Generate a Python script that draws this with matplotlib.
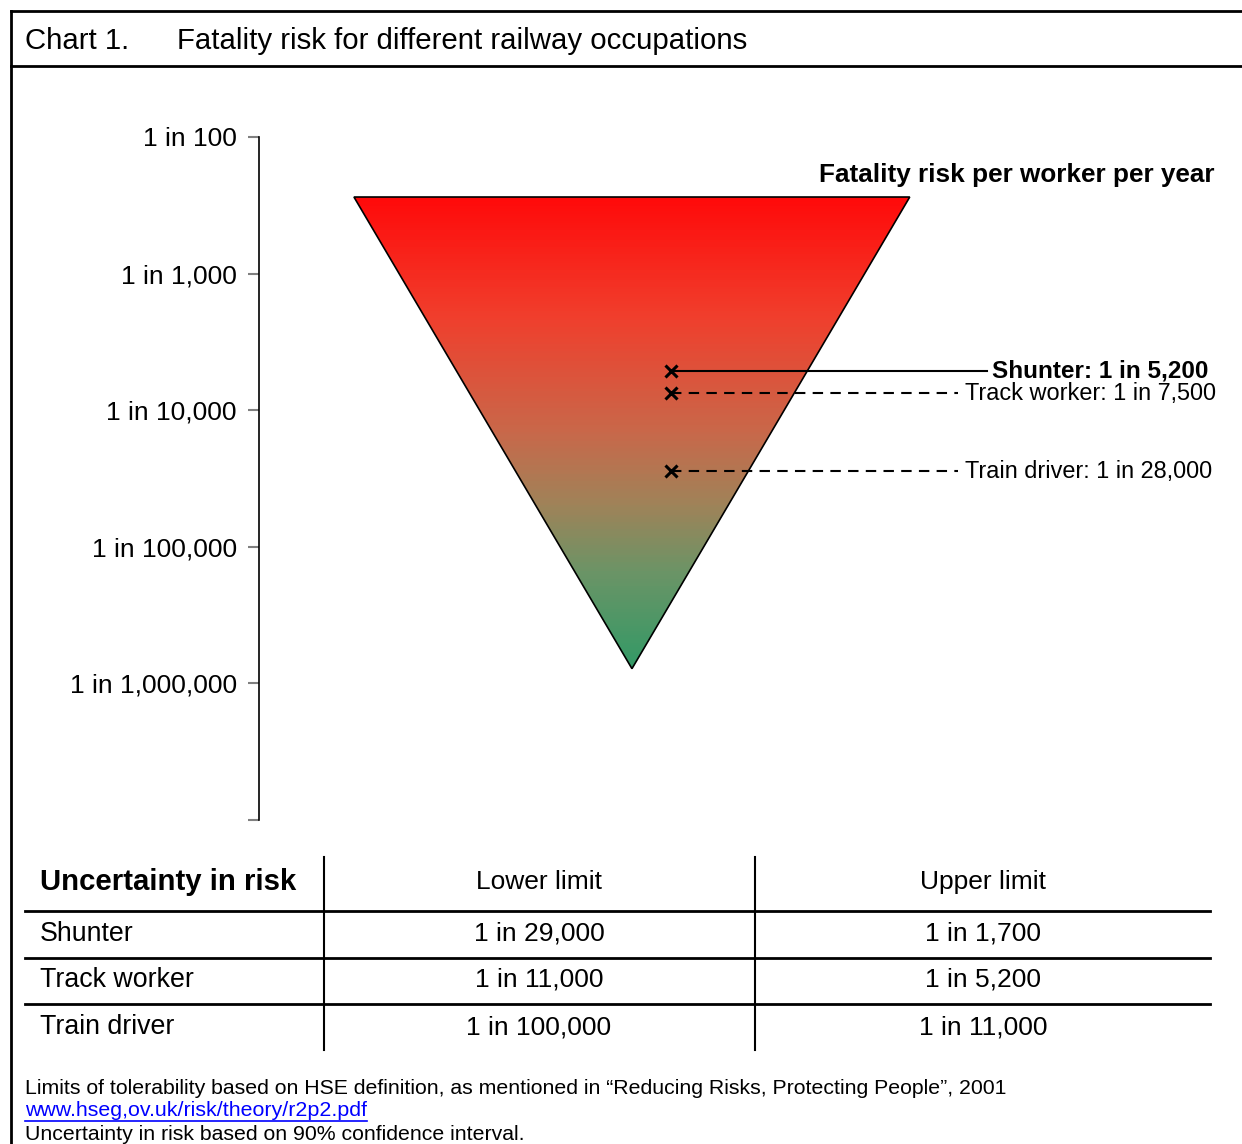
import numpy as np
import matplotlib.pyplot as plt
from matplotlib.patches import Polygon
from matplotlib.colors import LinearSegmentedColormap

plt.rcParams['font.family'] = ['Liberation Sans', 'DejaVu Sans']

# --- data ---
occupations = ['Shunter', 'Track worker', 'Train driver']
risk_one_in = [5200, 7500, 28000]          # fatality risk per worker per year
lower_limit = [29000, 11000, 100000]
upper_limit = [1700, 5200, 11000]
axis_ticks = [100, 1000, 10000, 100000, 1000000, 10000000]
triangle_top = 275          # 1 in N at the wide end of the triangle
triangle_apex = 780000      # 1 in N at the point

def one_in(v):
    return f"1 in {v:,}"

W, H = 1242, 1144
fig = plt.figure(figsize=(W / 100, H / 100), dpi=100)

# overlay in pixel units for frame, table and footer
bg = fig.add_axes([0, 0, 1, 1])
bg.set_xlim(0, W)
bg.set_ylim(H, 0)
bg.axis('off')

# frame and header
bg.plot([11, W], [11, 11], color='black', lw=2)
bg.plot([11, W], [66, 66], color='black', lw=2)
bg.plot([11, 11], [11, H], color='black', lw=2)
bg.text(25, 41, 'Chart 1.', fontsize=21.2, va='center')
bg.text(177, 41, 'Fatality risk for different railway occupations', fontsize=21.2, va='center')

# --- main log-scale axis ---
ax = fig.add_axes([259 / W, 1 - 820 / H, (W - 259) / W, (820 - 137) / H])
ax.set_facecolor('none')
ax.set_yscale('log')
ax.set_ylim(axis_ticks[-1], axis_ticks[0])
ax.set_xlim(0, 1)
ax.set_yticks(axis_ticks)
ax.set_yticklabels([one_in(t) for t in axis_ticks[:-1]] + [''])
ax.minorticks_off()
ax.tick_params(axis='y', direction='out', length=8, color='gray', width=1.5,
               pad=8, labelsize=19)
ax.set_xticks([])
for s in ['top', 'right', 'bottom']:
    ax.spines[s].set_visible(False)
ax.spines['left'].set_linewidth(1.2)

# gradient triangle
tri_x = [0.0966, 0.662, 0.3794]
tri = Polygon([(tri_x[0], triangle_top), (tri_x[1], triangle_top), (tri_x[2], triangle_apex)],
              closed=True, facecolor='none', edgecolor='black', lw=1.2, zorder=3)
ax.add_patch(tri)
cmap = LinearSegmentedColormap.from_list('risk', [
    (0.0, '#ff0a0a'), (0.25, '#f03e2c'), (0.5, '#c8684a'),
    (0.65, '#a08258'), (0.8, '#6a9466'), (1.0, '#339966')])
ye = np.logspace(np.log10(triangle_top), np.log10(triangle_apex), 200)
xe = np.array([tri_x[0], tri_x[1]])
c = np.linspace(0, 1, len(ye) - 1)[:, None]
mesh = ax.pcolormesh(xe, ye, c, cmap=cmap, shading='flat', zorder=2)
mesh.set_clip_path(tri)

ax.text(0.9725, 0.944, 'Fatality risk per worker per year', transform=ax.transAxes,
        ha='right', va='center', fontsize=18.8, fontweight='bold')

# markers with leader lines
marker_x = 0.419
line_end = [0.7406, 0.711, 0.711]
label_x = [0.7457, 0.718, 0.718]
label_size = [17.5, 16.9, 16.9]
for i, (name, r) in enumerate(zip(occupations, risk_one_in)):
    ls = '-' if i == 0 else (0, (5, 3.5))
    ax.plot([marker_x, line_end[i]], [r, r], color='black', lw=1.5, ls=ls, zorder=4)
    ax.plot(marker_x, r, marker='x', color='black', ms=9, mew=2.2, zorder=5)
    ax.text(label_x[i], r, f"{name}: {one_in(r)}", va='center', ha='left',
            fontsize=label_size[i], fontweight='bold' if i == 0 else 'normal', clip_on=False)

# --- table ---
bg.plot([324, 324], [857, 1050], color='black', lw=1.5)
bg.plot([755, 755], [857, 1050], color='black', lw=1.5)
for y in [911, 958, 1004]:
    bg.plot([25, 1210], [y, y], color='black', lw=2)
bg.text(40, 882, 'Uncertainty in risk', fontsize=21.2, fontweight='bold', va='center')
bg.text(539, 882, 'Lower limit', fontsize=19, va='center', ha='center')
bg.text(983, 882, 'Upper limit', fontsize=19, va='center', ha='center')
row_y = [934, 980, 1027]
for name, lo, up, y in zip(occupations, lower_limit, upper_limit, row_y):
    bg.text(40, y, name, fontsize=19.3, va='center')
    bg.text(539, y, one_in(lo), fontsize=19, va='center', ha='center')
    bg.text(983, y, one_in(up), fontsize=19, va='center', ha='center')

# --- footer ---
bg.text(25, 1088, 'Limits of tolerability based on HSE definition, as mentioned in '
        '\u201cReducing Risks, Protecting People\u201d, 2001', fontsize=15.3, va='center')
link = bg.text(25, 1111, 'www.hseg,ov.uk/risk/theory/r2p2.pdf', fontsize=15.4,
               va='center', color='#0000ff')
bg.text(25, 1135, 'Uncertainty in risk based on 90% confidence interval.',
        fontsize=15.3, va='center')
fig.canvas.draw()
bb = link.get_window_extent().transformed(bg.transData.inverted())
bg.plot([bb.x0, bb.x1], [1121, 1121], color='#0000ff', lw=1.2)

fig.savefig('out.png', dpi=100)
